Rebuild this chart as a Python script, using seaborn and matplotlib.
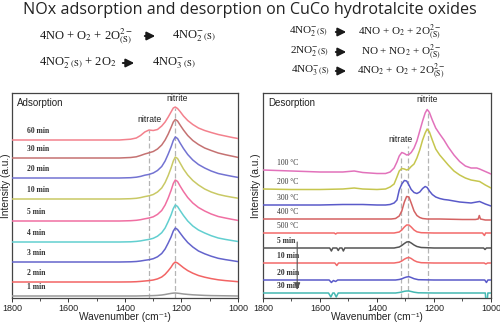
import numpy as np
import matplotlib
matplotlib.use("Agg")
import matplotlib.pyplot as plt
from matplotlib.patches import FancyArrowPatch
import seaborn as sns

# ---------------- data ----------------
# Adsorption spectra: common wavenumber grid (cm-1), intensity above each trace's baseline
ADS_W = [1800, 1700, 1600, 1500, 1420, 1380, 1360, 1345, 1330, 1315,
         1300, 1285, 1270, 1258, 1247, 1237, 1229, 1222, 1214, 1205,
         1193, 1178, 1160, 1140, 1118, 1095, 1070, 1045, 1020, 1000]
ADS_LABELS = ["60 min", "30 min", "20 min", "10 min", "5 min", "4 min", "3 min", "2 min", "1 min"]
ADS_60 = [0, 0, 0, 0, 0, 0.8, 2, 4.5, 8, 10,
          9.5, 10.5, 14, 18, 23, 28, 32, 33, 31.5, 28.5,
          24, 19.5, 15.5, 12, 9.5, 7.5, 5.5, 4, 2.5, 1.5]
ADS_30 = [0, 0, 0, 0, 0, 0.5, 1.2, 2.5, 4, 5.2,
          6.5, 9, 13, 18, 24, 30.5, 36, 38.5, 37, 33,
          28, 22.5, 17.5, 13.5, 10, 7.5, 5, 3.3, 1.8, 0.6]
ADS_20 = [0, 0, 0, 0, 0, 0.3, 0.8, 1.6, 2.8, 3.6,
          5, 7.5, 11.5, 17, 24, 31, 37.5, 41, 39.5, 35,
          29.5, 23.5, 18, 13.5, 10, 7, 4.5, 3, 1.6, 0.6]
ADS_10 = [0, 0, 0, 0, 0, 0.3, 0.7, 1.4, 2.4, 3.2,
          4.5, 7, 11, 16.5, 23.5, 31, 38, 42, 40.5, 36,
          30, 24, 18.5, 14, 10, 7, 4.6, 3, 1.7, 0.8]
ADS_5 = [0, 0, 0, 0, 0, 0.3, 0.7, 1.3, 2.2, 3,
         4.2, 6.6, 10.5, 16, 23, 30.5, 37.5, 41, 39.5, 35,
         29.5, 23.5, 18, 13.5, 10, 7, 4.5, 3, 1.6, 0.6]
ADS_4 = [0, 0, 0, 0, 0, 0.2, 0.6, 1.1, 1.9, 2.6,
         3.7, 5.8, 9.3, 14, 20.5, 27, 33.5, 37, 35.5, 31.5,
         26.5, 21, 16, 12, 9, 6.3, 4, 2.6, 1.4, 0.5]
ADS_3 = [0, 0, 0, 0, 0, 0.2, 0.5, 1, 1.7, 2.3,
         3.3, 5.2, 8.5, 13, 19, 25, 31, 34, 32.5, 29,
         24.5, 19.5, 15, 11, 8.2, 5.8, 3.7, 2.4, 1.3, 0.4]
ADS_2 = [0, 0, 0, 0, 0, 0.1, 0.3, 0.6, 1, 1.4,
         2, 3.1, 5, 7.7, 11.2, 14.8, 18.3, 20, 19, 17,
         14.3, 11.4, 8.8, 6.5, 4.8, 3.4, 2.2, 1.4, 0.8, 0.3]
ADS_1 = [0, 0, 0, 0, 0, 0, 0, 0.1, 0.2, 0.3,
         0.4, 0.6, 1, 1.5, 2.1, 2.6, 2.9, 3, 2.8, 2.5,
         2, 1.6, 1.2, 0.9, 0.6, 0.4, 0.3, 0.2, 0.1, 0]
ADS_SERIES = [ADS_60, ADS_30, ADS_20, ADS_10, ADS_5, ADS_4, ADS_3, ADS_2, ADS_1]
ADS_BASE = [158, 140, 120, 99, 77, 56, 36, 16, 2]
ADS_COLORS = ["#f3818d", "#c57272", "#7373d2", "#c9c965", "#f06fa2",
              "#62cfd0", "#6464cc", "#f26464", "#999999"]

# Desorption spectra
DES_LABELS = ["100 \u00b0C", "200 \u00b0C", "300 \u00b0C", "400 \u00b0C", "500 \u00b0C",
              "5 min", "10 min", "20 min", "30 min"]
DES_W_HI = [1800, 1700, 1600, 1520, 1480, 1450, 1400, 1370, 1354, 1340,
            1330, 1322, 1313, 1304, 1296, 1288, 1280, 1270, 1260, 1250,
            1240, 1231, 1224, 1216, 1206, 1194, 1180, 1165, 1150, 1130,
            1110, 1090, 1070, 1050, 1040, 1020, 1000]
DES_100 = [4, 3, 2, 2, 3, 1.5, 0.5, 0.5, 2, 6,
           12, 18, 21.5, 20.5, 19, 19.5, 21.5, 26, 33, 43,
           53, 61, 64.5, 61.5, 54, 46, 40, 34, 27, 19,
           12.5, 8, 6, 6, 5, 2.5, 0]
DES_200 = [1, 0.5, 0.5, 1, 2, 1, 0.5, 1, 3, 6,
           13, 19, 21.5, 21, 20, 21, 23.5, 26, 32, 40,
           50, 57, 61, 58, 50, 41, 35, 30, 25, 19,
           15, 12, 10, 9, 8.5, 5, 2]
DES_300 = [0, 0, 0, 0.5, 0.5, 0.5, 0, 0, 0.5, 2,
           5, 15, 21, 24.5, 24, 20, 15.5, 12.5, 11.5, 13,
           16.5, 18.5, 17.5, 14, 10.5, 8, 6.5, 5.5, 5, 4,
           3, 2.5, 2, 3, 3.5, 1, -1]
DES_W_400 = [1800, 1600, 1400, 1350, 1335, 1322, 1313, 1304, 1296, 1288,
             1280, 1270, 1260, 1250, 1240, 1224, 1180, 1100, 1055, 1045,
             1041, 1037, 1020, 1000]
DES_400 = [0, 0, 0, 0, 0.5, 3, 8, 17, 22.5, 22,
           16, 8, 3.5, 1.5, 0.5, 0, 0, -0.5, -0.5, 0,
           3.5, 0, -1, -1]
DES_W_500 = [1800, 1600, 1550, 1545, 1540, 1400, 1340, 1322, 1313, 1304,
             1296, 1288, 1280, 1270, 1260, 1245, 1200, 1100, 1030, 1023,
             1019, 1000]
DES_500 = [0, 0, 0, -1, 0, 0, 0, 1, 3, 6,
           8, 8, 6, 3, 1.2, 0.3, 0, 0, 0, -2.5,
           0, 0]
DES_W_5 = [1800, 1600, 1566, 1560, 1555, 1541, 1536, 1531, 1523, 1518,
           1513, 1400, 1340, 1322, 1313, 1304, 1296, 1288, 1280, 1270,
           1260, 1245, 1200, 1100, 1026, 1021, 1016, 1000]
DES_5 = [0, 0, 0, -3, 0, 0, -2.5, 0, 0, -3,
         0, 0, 0, 1, 2.5, 4.5, 6, 6.3, 5, 3,
         1.5, 0.5, 0, 0, 0, -1.5, 0, 0]
DES_W_10 = [1800, 1600, 1548, 1541, 1535, 1400, 1340, 1322, 1313, 1304,
            1296, 1288, 1280, 1270, 1260, 1245, 1200, 1100, 1024, 1018,
            1012, 1000]
DES_10 = [0, 0, 0, -2.5, 0, 0, 0, 0.8, 2, 3.8,
          5, 5.5, 4.5, 2.5, 1.2, 0.3, 0, 0, 0, -1,
          0, 0]
DES_W_20 = [1800, 1600, 1568, 1560, 1553, 1545, 1538, 1400, 1335, 1322,
            1313, 1304, 1296, 1288, 1280, 1270, 1255, 1200, 1100, 1022,
            1016, 1011, 1000]
DES_20 = [0, 0, 0, -2.5, -0.5, -1.5, 0, 0, 0, 0.5,
          1.2, 2.3, 3, 3.3, 2.5, 1.3, 0.3, 0, 0, 0,
          -2.5, 0, 0]
DES_W_30 = [1800, 1600, 1570, 1562, 1555, 1550, 1543, 1536, 1400, 1335,
            1322, 1313, 1304, 1296, 1288, 1280, 1270, 1255, 1200, 1100,
            1020, 1018, 1013, 1011, 1000]
DES_30 = [0, 0, 0, -4, 0, 0, -4, 0, 0, 0,
          0.5, 1, 1.7, 2, 2, 1.5, 0.8, 0.2, 0, 0,
          0, -7, -7, 0, 0]
DES_SERIES = [(DES_W_HI, DES_100), (DES_W_HI, DES_200), (DES_W_HI, DES_300),
              (DES_W_400, DES_400), (DES_W_500, DES_500), (DES_W_5, DES_5),
              (DES_W_10, DES_10), (DES_W_20, DES_20), (DES_W_30, DES_30)]
DES_BASE = [124, 108, 93, 79, 65, 50, 35, 18, 5]
DES_COLORS = ["#e272bb", "#c6c64e", "#5a5ac9", "#d46262", "#f26a6a",
              "#555555", "#f26a6a", "#5a5ac9", "#45b8b2"]

# band positions (cm-1)
ADS_BANDS = [1315, 1222]
DES_BANDS = [1315, 1292, 1222]

TITLE = "NOx adsorption and desorption on CuCo hydrotalcite oxides"

# ---------------- style ----------------
sns.set_theme(style="white")
plt.rcParams["font.family"] = ["Liberation Sans", "DejaVu Sans"]
plt.rcParams["mathtext.fontset"] = "stix"

W, H = 500, 327
fig = plt.figure(figsize=(W / 100, H / 100), dpi=100)
fig.patch.set_facecolor("white")

ax_a = fig.add_axes([12 / W, 29 / H, 226 / W, 205 / H])
ax_d = fig.add_axes([263 / W, 29 / H, 228 / W, 205 / H])

for ax, ylab_x in ((ax_a, -0.006), (ax_d, -0.010)):
    ax.set_xlim(1800, 1000)
    ax.set_ylim(0, 205)
    ax.set_xticks([1800, 1600, 1400, 1200, 1000])
    ax.set_xticks([1700, 1500, 1300, 1100], minor=True)
    ax.set_yticks([])
    ax.tick_params(axis="x", which="major", bottom=True, direction="out",
                   length=3, width=0.7, labelsize=6.5, pad=1.0,
                   colors="#333333", labelcolor="#222222")
    ax.tick_params(axis="x", which="minor", bottom=True, direction="out",
                   length=2, width=0.6, colors="#333333")
    for sp in ax.spines.values():
        sp.set_color("#444444")
        sp.set_linewidth(0.9)
    ax.set_xlabel("Wavenumber (cm\u207b\u00b9)", fontsize=7.3,
                  family=["Liberation Sans", "DejaVu Sans"], color="#222222")
    ax.xaxis.set_label_coords(0.5, -0.068)
    ax.set_ylabel("Intensity (a.u.)", fontsize=7.3, color="#222222")
    ax.yaxis.set_label_coords(ylab_x, 0.55)

# ---------------- adsorption ----------------
for band, top in zip(ADS_BANDS, [168, 190]):
    ax_a.vlines(band, 0, top, colors="#b5b5b5", linestyles=(0, (4, 2)), lw=0.9, zorder=1)

for lab, vals, base, col in zip(ADS_LABELS, ADS_SERIES, ADS_BASE, ADS_COLORS):
    y = np.asarray(vals, dtype=float) + base
    sns.lineplot(x=ADS_W, y=y, ax=ax_a, color=col, lw=1.1, zorder=3)
    ax_a.text(1748, base + 9, lab, fontsize=5.5, fontweight="bold",
              family="Liberation Serif", color="#333333", ha="left", va="center")

ax_a.text(0.022, 0.951, "Adsorption", transform=ax_a.transAxes, fontsize=7,
          ha="left", va="center", color="#222222")
ax_a.text(1214, 199.5, "nitrite", fontsize=6.2, ha="center", va="center", color="#222222")
ax_a.text(1313, 179, "nitrate", fontsize=6.2, ha="center", va="center", color="#222222")

# ---------------- desorption ----------------
for band, top in zip(DES_BANDS, [140, 152, 188]):
    ax_d.vlines(band, 0, top, colors="#b5b5b5", linestyles=(0, (4, 2)), lw=0.9, zorder=1)

for lab, (wn, vals), base, col in zip(DES_LABELS, DES_SERIES, DES_BASE, DES_COLORS):
    y = np.asarray(vals, dtype=float) + base
    sns.lineplot(x=wn, y=y, ax=ax_d, color=col, lw=1.1, zorder=3)
    bold = "min" in lab
    ax_d.text(1751, base + vals[0] + 7, lab, fontsize=5.5,
              fontweight="bold" if bold else "normal",
              family="Liberation Serif", color="#333333", ha="left", va="center")

ax_d.annotate("", xy=(1680, 8), xytext=(1680, 56),
              arrowprops=dict(arrowstyle="-|>,head_length=0.35,head_width=0.15",
                              color="#555555", lw=0.8, shrinkA=0, shrinkB=0))

ax_d.text(0.022, 0.951, "Desorption", transform=ax_d.transAxes, fontsize=7,
          ha="left", va="center", color="#222222")
ax_d.text(1223, 198, "nitrite", fontsize=6.2, ha="center", va="center", color="#222222")
ax_d.text(1318, 158, "nitrate", fontsize=6.2, ha="center", va="center", color="#222222")

for ax in (ax_a, ax_d):
    leg = ax.get_legend()
    if leg is not None:
        leg.remove()

# ---------------- title and reactions ----------------
fig.text(0.5, 1 - 10 / H, TITLE, ha="center", va="center", fontsize=11.6,
         family="Open Sans", color="#222222")

reactions = [
    # (left side, right side, y, x_left, arrow x0, arrow x1, x_right, size)
    (r"4NO + O$_2$ + 2O$^{2-}_{\mathrm{(S)}}$", r"4NO$_2^{-}$$_{\mathrm{(S)}}$",
     36, 39, 142, 158, 172, 9),
    (r"4NO$_2^{-}$$_{\mathrm{(S)}}$ + 2O$_2$", r"4NO$_3^{-}$$_{\mathrm{(S)}}$",
     63, 39, 120, 137, 152, 9),
    (r"4NO$_2^{-}$$_{\mathrm{(S)}}$", r"4NO + O$_2$ + 2O$^{2-}_{\mathrm{(S)}}$",
     32, 289, 333, 349, 358, 8),
    (r"2NO$_2^{-}$$_{\mathrm{(S)}}$", r"NO + NO$_2$ + O$^{2-}_{\mathrm{(S)}}$",
     52, 290, 333, 349, 361, 8),
    (r"4NO$_3^{-}$$_{\mathrm{(S)}}$", r"4NO$_2$ + O$_2$ + 2O$^{2-}_{\mathrm{(S)}}$",
     71, 291, 333, 349, 357, 8),
]
for lhs, rhs, yy, xl, a0, a1, xr, fs in reactions:
    fy = 1 - yy / H
    fig.text(xl / W, fy, lhs, ha="left", va="center", fontsize=fs,
             family="Liberation Serif", color="#1a1a1a")
    fig.text(xr / W, fy, rhs, ha="left", va="center", fontsize=fs,
             family="Liberation Serif", color="#1a1a1a")
    arr = FancyArrowPatch((a0 / W, fy), (a1 / W, fy), transform=fig.transFigure,
                          arrowstyle="-|>,head_length=0.7,head_width=0.35",
                          mutation_scale=7, lw=1.4, color="#1a1a1a")
    fig.add_artist(arr)

fig.savefig("out.png", dpi=100, facecolor="white")
